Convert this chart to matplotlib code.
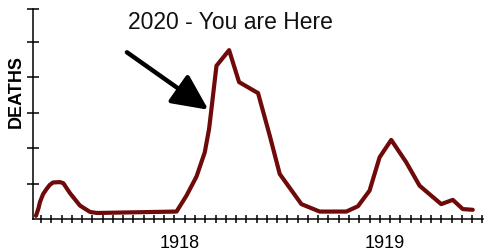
import numpy as np
import matplotlib
matplotlib.use("Agg")
import matplotlib.pyplot as plt

# weekly deaths curve (arbitrary units)
weeks = [-0.49, -0.25, -0.10, 0.2, 0.55, 0.85, 1.17, 1.85, 2.17, 2.82, 3.79,
         4.77, 5.45, 13.2, 14.17, 15.15, 15.95, 16.37, 16.6, 17.09, 18.32,
         19.29, 21.14, 22.28, 23.25, 25.36, 27.14, 29.74, 30.87, 32.0, 32.98,
         34.11, 35.57, 36.87, 37.84, 38.98, 40.11, 41.08, 42.05]
deaths = [0.09, 0.30, 0.48, 0.70, 0.85, 0.96, 1.03, 1.04, 1.01, 0.73, 0.38,
          0.20, 0.17, 0.21, 0.66, 1.20, 1.88, 2.54, 3.10, 4.32, 4.76,
          3.86, 3.55, 2.35, 1.27, 0.42, 0.21, 0.21, 0.36, 0.80, 1.74,
          2.23, 1.60, 0.94, 0.70, 0.42, 0.54, 0.28, 0.26]

year_labels = ["1918", "1919"]
year_ticks = [13.5, 33.5]
week_ticks = np.arange(44)
y_ticks = [1, 2, 3, 4, 5, 5.92]

plt.rcParams['font.family'] = ['Liberation Sans', 'DejaVu Sans']

fig = plt.figure(figsize=(5, 2.53), dpi=100)
ax = fig.add_axes([0.066, 0.1304, 0.9, 0.83])

ax.plot(weeks, deaths, color='#6e0a0a', lw=3.0, solid_joinstyle='round',
        solid_capstyle='round')

ax.set_xlim(-0.78, 43.05)
ax.set_ylim(0, 5.92)

for s in ['top', 'right']:
    ax.spines[s].set_visible(False)
for s in ['left', 'bottom']:
    ax.spines[s].set_linewidth(1.1)

ax.set_xticks(week_ticks)
ax.set_xticklabels([])
ax.set_xticks(year_ticks, minor=True)
ax.set_xticklabels(year_labels, minor=True, fontsize=13)
ax.tick_params(axis='x', which='major', direction='inout', length=6, width=1.1)
ax.tick_params(axis='x', which='minor', length=0, pad=11)

ax.set_yticks(y_ticks)
ax.set_yticklabels([])
ax.tick_params(axis='y', direction='inout', length=8, width=1.1)

fig.text(0.033, 0.64, "DEATHS", rotation=90, ha='center', va='center',
         fontsize=13, fontweight='bold')

fig.text(230 / 500, 1 - 29 / 253, "2020 - You are Here", fontsize=16.5,
         ha='center', va='baseline', color='#111111')

ax.annotate("", xy=(16.3, 3.08), xytext=(8.37, 4.70),
            arrowprops=dict(arrowstyle='-|>,head_length=2.2,head_width=1.05',
                            lw=3.2, color='black', shrinkA=0, shrinkB=0))

fig.savefig("out.png", dpi=100)
